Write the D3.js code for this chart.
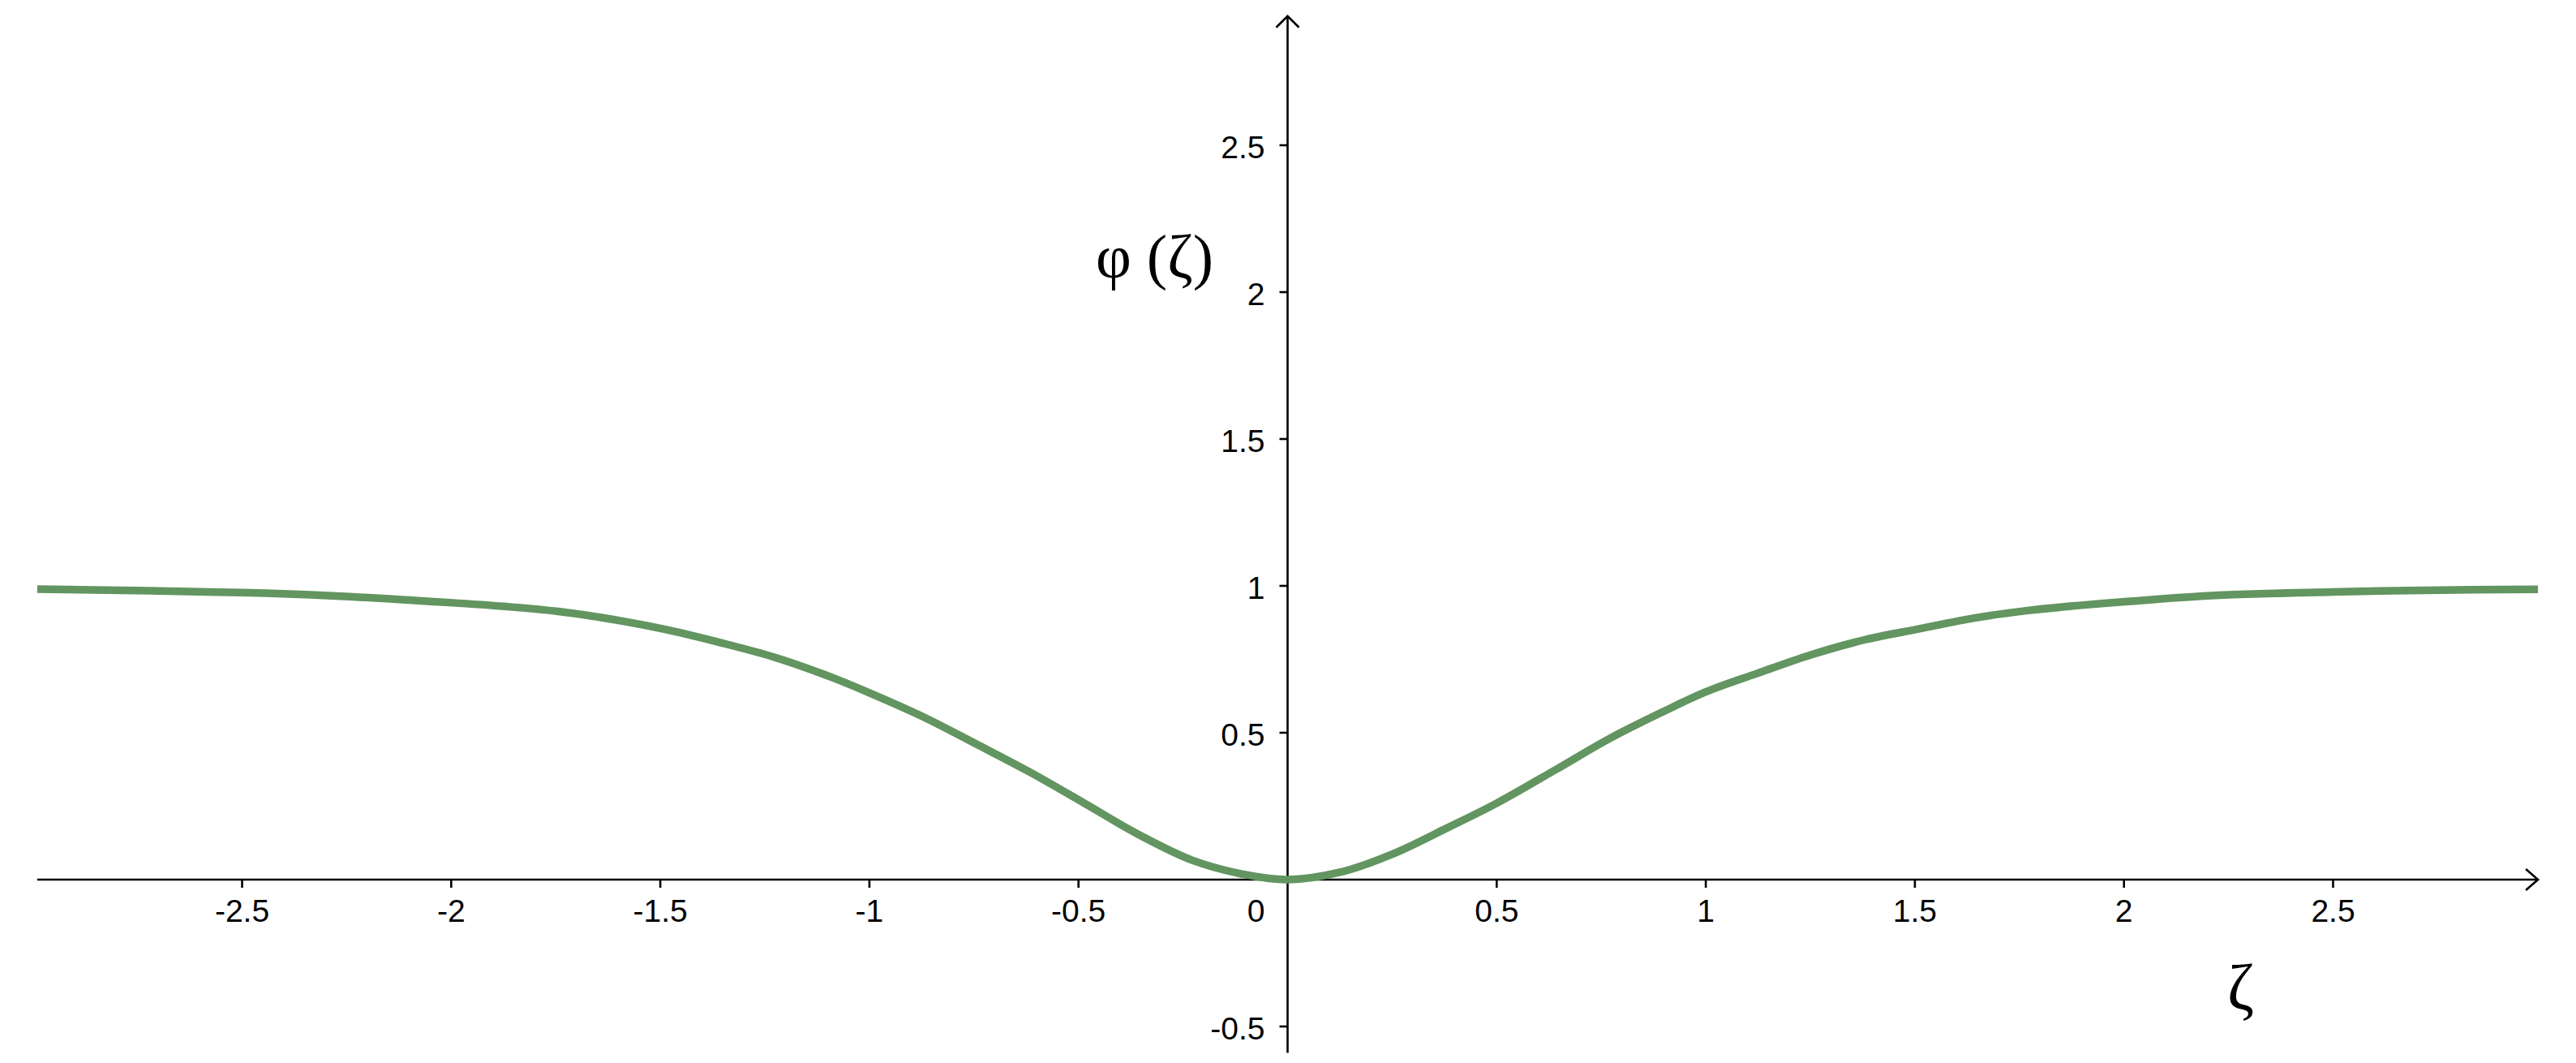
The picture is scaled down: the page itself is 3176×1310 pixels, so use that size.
<!DOCTYPE html>
<html>
<head>
<meta charset="utf-8">
<script src="https://cdn.jsdelivr.net/npm/d3@7"></script>
<style>
  html, body { margin: 0; padding: 0; background: #fff; }
  svg { display: block; }
</style>
</head>
<body>
<svg id="chart" width="3176" height="1310"></svg>
<script>
// ---- data ----
const zeta = [-2.99, -2.5, -2.285, -2.003, -1.873, -1.744, -1.615, -1.486, -1.357, -1.227, -1.098, -1.0,
              -0.874, -0.745, -0.615, -0.486, -0.357, -0.228, -0.098, 0,
              0.125, 0.254, 0.383, 0.5, 0.642, 0.771, 0.900, 1.0,
              1.123, 1.253, 1.382, 1.511, 1.640, 1.770, 1.899, 2.002, 2.227, 2.5, 2.72, 2.99];
const phi  = [0.989, 0.977, 0.966, 0.943, 0.930, 0.913, 0.886, 0.851, 0.807, 0.757, 0.693, 0.636,
              0.556, 0.462, 0.365, 0.260, 0.154, 0.066, 0.016, 0.0,
              0.025, 0.089, 0.177, 0.260, 0.375, 0.481, 0.573, 0.639,
              0.702, 0.766, 0.817, 0.854, 0.890, 0.916, 0.934, 0.946, 0.968, 0.979, 0.985, 0.988];
const xTicks = [-2.5, -2, -1.5, -1, -0.5, 0.5, 1, 1.5, 2, 2.5];
const yTicks = [-0.5, 0.5, 1, 1.5, 2, 2.5];
const xDomain = [-2.99, 2.99];
const yDomain = [-0.59, 2.94];
const xLabel = "ζ";
const yLabel = "φ (ζ)";

// ---- layout ----
const svg = d3.select("#chart");
const x = d3.scaleLinear().domain([-3, 3]).range([40.7, 3134.3]);
const y = d3.scaleLinear().domain([0, 1]).range([1084, 1084 - 362]);
const x0 = x(0), y0 = y(0);
const axisColor = "#000";
const tickFont = "'Liberation Sans', Arial, Helvetica, sans-serif";
const greekFont = "'Liberation Serif', 'Times New Roman', serif";

svg.append("rect").attr("width", 3176).attr("height", 1310).attr("fill", "#fff");

const axes = svg.append("g").attr("stroke", axisColor).attr("stroke-width", 2.6).attr("fill", "none");
// x axis line + arrow
axes.append("line").attr("x1", x(xDomain[0])).attr("x2", x(xDomain[1])).attr("y1", y0).attr("y2", y0);
axes.append("path").attr("d", `M${x(xDomain[1]) - 15},${y0 - 13} L${x(xDomain[1])},${y0} L${x(xDomain[1]) - 15},${y0 + 13}`);
// y axis line + arrow
axes.append("line").attr("x1", x0).attr("x2", x0).attr("y1", y(yDomain[0])).attr("y2", y(yDomain[1]));
axes.append("path").attr("d", `M${x0 - 14},${y(yDomain[1]) + 14} L${x0},${y(yDomain[1])} L${x0 + 14},${y(yDomain[1]) + 14}`);

// ticks
axes.selectAll(".xt").data(xTicks).enter().append("line")
  .attr("x1", d => x(d)).attr("x2", d => x(d)).attr("y1", y0).attr("y2", y0 + 10);
axes.selectAll(".yt").data(yTicks).enter().append("line")
  .attr("x1", x0 - 10).attr("x2", x0).attr("y1", d => y(d)).attr("y2", d => y(d));

const labels = svg.append("g").attr("font-family", tickFont).attr("font-size", 39).attr("fill", "#000");
labels.selectAll(".xl").data(xTicks).enter().append("text")
  .attr("x", d => x(d)).attr("y", y0 + 52).attr("text-anchor", "middle").text(d => String(d));
labels.selectAll(".yl").data(yTicks).enter().append("text")
  .attr("x", x0 - 28).attr("y", d => y(d) + 16).attr("text-anchor", "end").text(d => String(d));
labels.append("text").attr("x", x0 - 28).attr("y", y0 + 52).attr("text-anchor", "end").text("0");

// axis titles
svg.append("text").attr("x", 1351).attr("y", 342).attr("font-family", greekFont).attr("font-size", 76)
  .attr("fill", "#000").text(yLabel);
svg.append("text").attr("x", 2746).attr("y", 1244).attr("font-family", greekFont).attr("font-size", 80)
  .attr("fill", "#000").text(xLabel);

// curve
const pts = zeta.map((z, i) => [z, phi[i]]);
const line = d3.line().x(d => x(d[0])).y(d => y(d[1])).curve(d3.curveCatmullRom.alpha(0.5));
svg.append("path").datum(pts).attr("d", line).attr("fill", "none")
  .attr("stroke", "#629560").attr("stroke-width", 9.5).attr("stroke-linejoin", "round");
</script>
</body>
</html>
